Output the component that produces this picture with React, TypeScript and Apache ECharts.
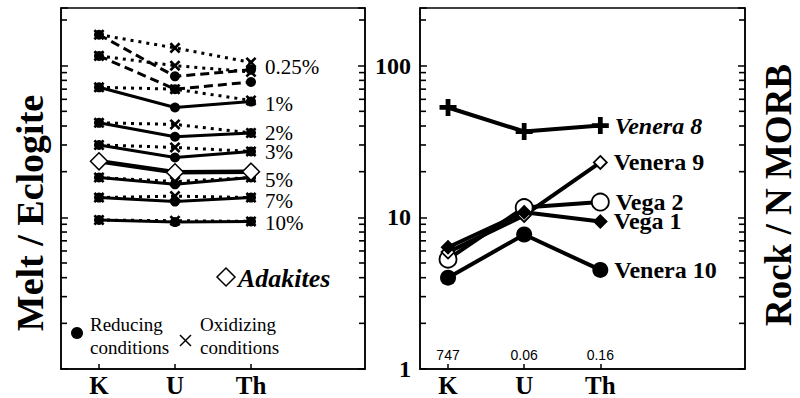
import React, { useEffect, useRef } from 'react';
import * as echarts from 'echarts';

const categories = ['K', 'U', 'Th'];
const normalizers = ['747', '0.06', '0.16'];
const minorTickValues = [2, 3, 4, 5, 6, 7, 8, 9, 20, 30, 40, 50, 60, 70, 80, 90, 200];

// Left panel: Melt / Eclogite (reducing = filled circles, oxidizing = crosses)
const reducing025 = [160, 85, 94];
const oxidizing025 = [160, 131, 105];
const reducing05 = [116, 70, 78];
const oxidizing05 = [116, 100, 91];
const reducing1 = [72, 53, 58];
const oxidizing1 = [72, 70, 59];
const reducing2 = [42, 34, 36];
const oxidizing2 = [42, 41, 36];
const reducing3 = [30, 24.8, 27.2];
const oxidizing3 = [30, 28.9, 27.2];
const reducing5 = [18.3, 16.5, 18.3];
const oxidizing5 = [18.3, 17.2, 18.3];
const reducing7 = [13.5, 12.7, 13.5];
const oxidizing7 = [13.5, 13.8, 13.5];
const reducing10 = [9.6, 9.3, 9.4];
const oxidizing10 = [9.6, 9.5, 9.4];
const adakites = [23.4, 19.8, 20];

// Right panel: Rock / N MORB
const venera8 = [53, 36.8, 40.3];
const venera9 = [5.9, 10.3, 23];
const vega2 = [5.3, 11.6, 12.6];
const vega1 = [6.35, 10.8, 9.4];
const venera10 = [4.0, 7.7, 4.5];

const SERIF = '"Liberation Serif", "Times New Roman", serif';
const PLUS = 'path://M3.6,0H6.4V3.6H10V6.4H6.4V10H3.6V6.4H0V3.6H3.6Z';
const CROSS = 'path://M4,0H6V4H10V6H6V10H4V6H0V4H4Z';

const X_LEFT = [-0.5, 3.5];
const X_RIGHT = [-0.368, 3.9];

function pts(values: number[], label?: string, labelCfg?: any) {
  return values.map((v, i) => {
    if (label && i === values.length - 1) {
      return { value: [i, v], label: { show: true, formatter: label, ...labelCfg } };
    }
    return [i, v];
  });
}

const pctLabel = {
  position: 'right',
  distance: 9,
  fontFamily: SERIF,
  fontSize: 21,
  color: '#000',
};

function reducing(name: string, values: number[], dashed: boolean, label?: string, offset?: number[]) {
  return {
    type: 'line',
    name,
    xAxisIndex: 0,
    yAxisIndex: 0,
    data: pts(values, label, { ...pctLabel, offset: offset || [0, 0] }),
    symbol: 'circle',
    symbolSize: 10,
    itemStyle: { color: '#000' },
    lineStyle: { color: '#000', width: 3, type: dashed ? [9, 5] : 'solid' },
    z: 3,
  };
}

function oxidizing(name: string, values: number[]) {
  return {
    type: 'line',
    name,
    xAxisIndex: 0,
    yAxisIndex: 0,
    data: pts(values),
    symbol: CROSS,
    symbolRotate: 45,
    symbolSize: 13,
    itemStyle: { color: '#000' },
    lineStyle: { color: '#000', width: 3, type: [3, 5] },
    z: 2,
  };
}

const rightLabel = {
  position: 'right',
  distance: 6,
  fontFamily: SERIF,
  fontSize: 24,
  fontWeight: 'bold',
  color: '#000',
};

function rightSeries(name: string, values: number[], symbol: string, size: number, fill: string, labelExtra: any = {}) {
  return {
    type: 'line',
    name,
    xAxisIndex: 1,
    yAxisIndex: 2,
    data: pts(values, name, { ...rightLabel, ...labelExtra }),
    symbol,
    symbolSize: size,
    itemStyle: { color: fill, borderColor: '#000', borderWidth: fill === '#fff' ? 1.8 : 0 },
    lineStyle: { color: '#000', width: 4 },
  };
}

// minor log ticks: short marks on a grid edge, placed through the axes' own scales
function minorTicks(xAxisIndex: number, yAxisIndex: number, xEdge: number, inward: number) {
  return {
    type: 'line',
    xAxisIndex,
    yAxisIndex,
    silent: true,
    z: 5,
    data: minorTickValues.map((v) => [xEdge, v]),
    lineStyle: { width: 0, opacity: 0 },
    showSymbol: true,
    showAllSymbol: true,
    symbol: 'path://M0,0H10V2H0Z',
    symbolSize: [6, 1.6],
    symbolKeepAspect: false,
    symbolOffset: [inward * 3, 0],
    itemStyle: { color: '#000', opacity: 1 },
    emphasis: { disabled: true },
    tooltip: { show: false },
  };
}

const isPow10 = (v: number) => Math.abs(Math.log10(v) - Math.round(Math.log10(v))) < 1e-6;

function yAxisBase(gridIndex: number, position: string) {
  return {
    type: 'log',
    logBase: 10,
    gridIndex,
    position,
    min: 1,
    max: 240,
    axisLine: { show: true, onZero: false, lineStyle: { color: '#000', width: 1.5 } },
    axisTick: { show: true, inside: true, length: 7, lineStyle: { color: '#000', width: 1.5 } },
    splitLine: { show: false },
    axisLabel: { show: false },
  };
}

function xAxisBase(gridIndex: number, xr: number[]) {
  return {
    type: 'value',
    gridIndex,
    min: xr[0],
    max: xr[1],
    position: 'bottom',
    splitLine: { show: false },
    axisLine: { show: true, onZero: false, lineStyle: { color: '#000', width: 1.5 } },
    axisTick: { show: true, inside: true, length: 5, customValues: [0, 1, 2], lineStyle: { color: '#000', width: 1.5 } },
    axisLabel: {
      show: true,
      customValues: [0, 1, 2],
      formatter: (v: number) => categories[Math.round(v)] ?? '',
      fontFamily: SERIF,
      fontSize: 25,
      fontWeight: 'bold',
      color: '#000',
      margin: 4,
    },
  };
}

export default function App() {
  const ref = useRef<HTMLDivElement>(null);
  useEffect(() => {
    if (!ref.current) return;
    const chart = echarts.init(ref.current, null, { renderer: 'svg' });
    const option: any = {
      animation: false,
      backgroundColor: '#fff',
      grid: [
        { left: 61, top: 8, width: 304, height: 362, show: true, borderColor: '#000', borderWidth: 1.5 },
        { left: 420, top: 8, width: 325, height: 362, show: true, borderColor: '#000', borderWidth: 1.5 },
      ],
      xAxis: [
        xAxisBase(0, X_LEFT),
        xAxisBase(1, X_RIGHT),
        {
          type: 'value',
          gridIndex: 1,
          min: X_RIGHT[0],
          max: X_RIGHT[1],
          position: 'bottom',
          splitLine: { show: false },
          axisLine: { show: false },
          axisTick: { show: false },
          axisLabel: {
            show: true,
            inside: true,
            customValues: [0, 1, 2],
            formatter: (v: number) => normalizers[Math.round(v)] ?? '',
            fontFamily: '"Liberation Sans", Arial, sans-serif',
            fontSize: 14,
            color: '#000',
            margin: 7,
          },
        },
      ],
      yAxis: [
        yAxisBase(0, 'left'),
        yAxisBase(0, 'right'),
        {
          ...yAxisBase(1, 'left'),
          axisLabel: {
            show: true,
            formatter: (v: number) => (isPow10(v) ? String(Math.round(v)) : ''),
            fontFamily: SERIF,
            fontSize: 24,
            fontWeight: 'bold',
            color: '#000',
            margin: 9,
          },
        },
        yAxisBase(1, 'right'),
      ],
      series: [
        minorTicks(0, 0, X_LEFT[0], 1),
        minorTicks(0, 0, X_LEFT[1], -1),
        minorTicks(1, 2, X_RIGHT[0], 1),
        minorTicks(1, 2, X_RIGHT[1], -1),
        oxidizing('Oxidizing 0.25%', oxidizing025),
        oxidizing('Oxidizing 0.5%', oxidizing05),
        oxidizing('Oxidizing 1%', oxidizing1),
        oxidizing('Oxidizing 2%', oxidizing2),
        oxidizing('Oxidizing 3%', oxidizing3),
        oxidizing('Oxidizing 5%', oxidizing5),
        oxidizing('Oxidizing 7%', oxidizing7),
        oxidizing('Oxidizing 10%', oxidizing10),
        reducing('Reducing 0.25%', reducing025, true, '0.25%', [0, -3]),
        reducing('Reducing 0.5%', reducing05, true),
        reducing('Reducing 1%', reducing1, false, '1%', [0, 2]),
        reducing('Reducing 2%', reducing2, false, '2%'),
        reducing('Reducing 3%', reducing3, false, '3%', [0, 1]),
        reducing('Reducing 5%', reducing5, false, '5%', [0, 2]),
        reducing('Reducing 7%', reducing7, false, '7%', [0, 3]),
        reducing('Reducing 10%', reducing10, false, '10%', [0, 2]),
        {
          type: 'line',
          name: 'Adakites',
          xAxisIndex: 0,
          yAxisIndex: 0,
          data: pts(adakites),
          symbol: 'diamond',
          symbolSize: 17,
          itemStyle: { color: '#fff', borderColor: '#000', borderWidth: 1.5 },
          lineStyle: { color: '#000', width: 4.5 },
          z: 4,
        },
        rightSeries('Vega 2', vega2, 'circle', 17, '#fff'),
        rightSeries('Venera 9', venera9, 'diamond', 13, '#fff'),
        rightSeries('Vega 1', vega1, 'diamond', 15, '#000'),
        rightSeries('Venera 10', venera10, 'circle', 16, '#000'),
        rightSeries('Venera 8', venera8, PLUS, 17, '#000', { fontStyle: 'italic' }),
      ],
      graphic: [
        {
          type: 'text',
          x: 30,
          y: 213,
          rotation: Math.PI / 2,
          style: {
            text: 'Melt / Eclogite',
            font: `bold 38px ${SERIF}`,
            fill: '#000',
            textAlign: 'center',
            textVerticalAlign: 'middle',
          },
        },
        {
          type: 'text',
          x: 778,
          y: 195,
          rotation: Math.PI / 2,
          style: {
            text: 'Rock / N MORB',
            font: `bold 37px ${SERIF}`,
            fill: '#000',
            textAlign: 'center',
            textVerticalAlign: 'middle',
          },
        },
        { type: 'circle', shape: { cx: 77, cy: 333, r: 6 }, style: { fill: '#000' } },
        {
          type: 'text',
          style: {
            text: 'Reducing\nconditions',
            x: 90,
            y: 336,
            font: `19px ${SERIF}`,
            fill: '#000',
            textAlign: 'left',
            textVerticalAlign: 'middle',
            lineHeight: 23,
          },
        },
        { type: 'line', shape: { x1: 180, y1: 335, x2: 191, y2: 346 }, style: { stroke: '#000', lineWidth: 1.5 } },
        { type: 'line', shape: { x1: 180, y1: 346, x2: 191, y2: 335 }, style: { stroke: '#000', lineWidth: 1.5 } },
        {
          type: 'text',
          style: {
            text: 'Oxidizing\nconditions',
            x: 200,
            y: 336,
            font: `19px ${SERIF}`,
            fill: '#000',
            textAlign: 'left',
            textVerticalAlign: 'middle',
            lineHeight: 23,
          },
        },
        {
          type: 'polygon',
          shape: { points: [[226, 268], [235, 277], [226, 286], [217, 277]] },
          style: { fill: 'none', stroke: '#000', lineWidth: 1.5 },
        },
        {
          type: 'text',
          style: {
            text: 'Adakites',
            x: 238,
            y: 278,
            font: `italic bold 26px ${SERIF}`,
            fill: '#000',
            textAlign: 'left',
            textVerticalAlign: 'middle',
          },
        },
      ],
    };
    chart.setOption(option);
    return () => chart.dispose();
  }, []);
  return <div ref={ref} style={{ width: 800, height: 398, position: 'absolute', left: 0, top: 0 }} />;
}
